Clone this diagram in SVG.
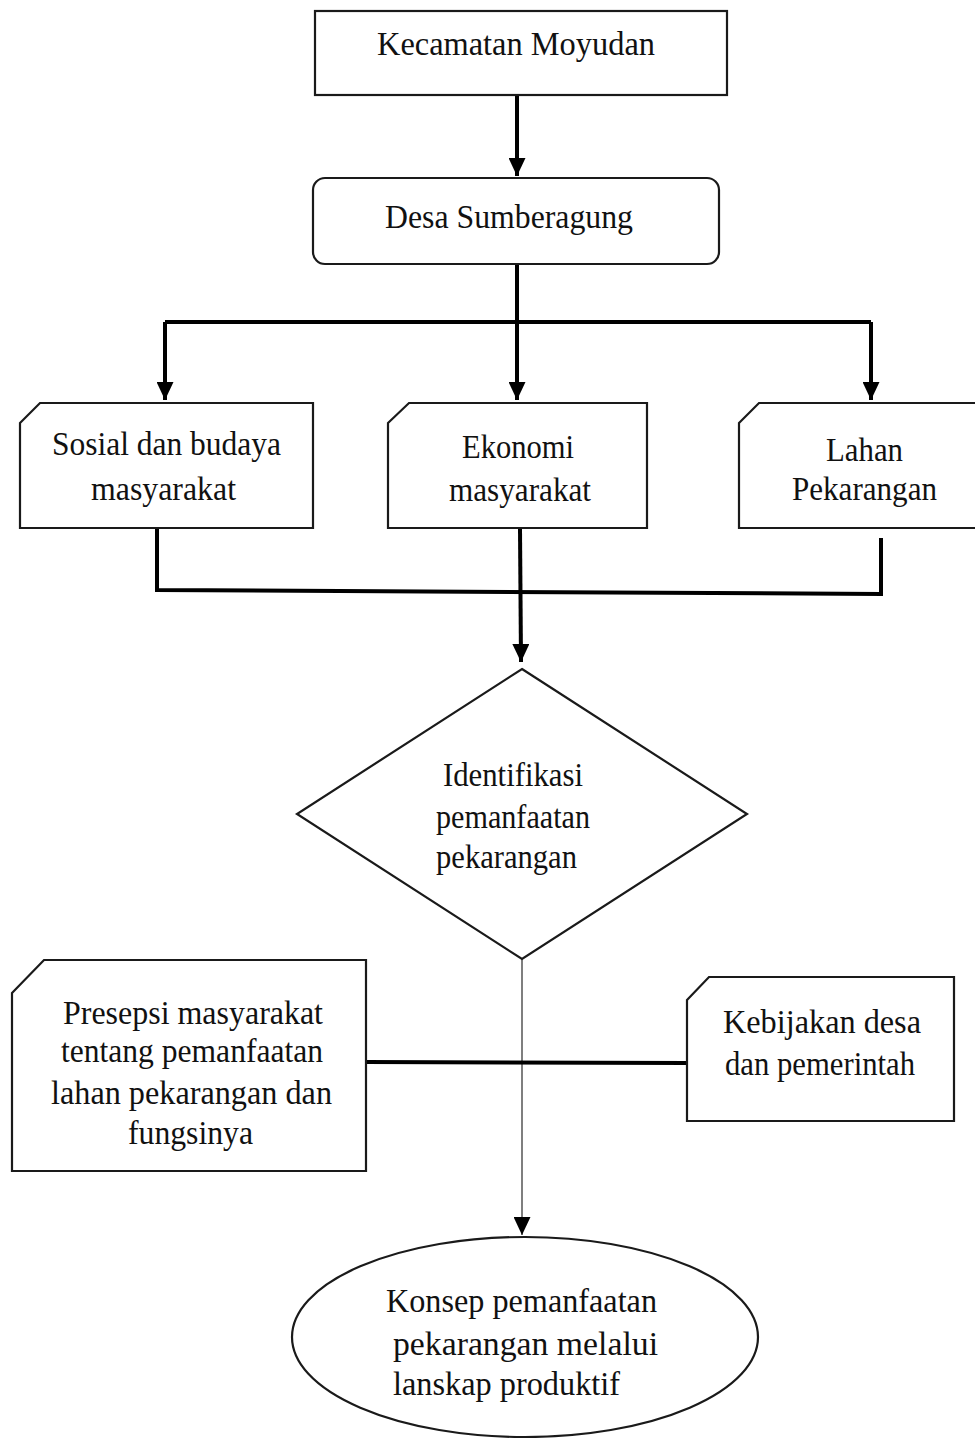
<svg xmlns="http://www.w3.org/2000/svg" width="975" height="1438" viewBox="0 0 975 1438">
<style>
.shape{fill:#fff;stroke:#1a1a1a;stroke-width:2.2}
.thick{fill:none;stroke:#000;stroke-width:4}
.thin{fill:none;stroke:#555;stroke-width:1.5}
text{font-family:"Liberation Serif","Times New Roman",serif;font-size:34px;fill:#111}
</style>
<defs>
<marker id="ah" markerUnits="userSpaceOnUse" markerWidth="18" markerHeight="17" refX="18" refY="8.5" orient="auto">
<path d="M0,0 L18,8.5 L0,17 z" fill="#000"/>
</marker>
</defs>
<rect width="975" height="1438" fill="#fff"/>
<g id="connectors">
<line class="thick" x1="517" y1="96" x2="517" y2="176" marker-end="url(#ah)"/>
<polyline class="thick" points="517,264 517,322"/>
<polyline class="thick" points="165,322 871,322"/>
<line class="thick" x1="165" y1="322" x2="165" y2="400" marker-end="url(#ah)"/>
<line class="thick" x1="517" y1="322" x2="517" y2="400" marker-end="url(#ah)"/>
<line class="thick" x1="871" y1="322" x2="871" y2="400" marker-end="url(#ah)"/>
<polyline class="thick" points="157,529 157,590 881,594 881,538"/>
<line class="thick" x1="520" y1="529" x2="521" y2="662" marker-end="url(#ah)"/>
<line class="thin" x1="522" y1="959" x2="522" y2="1235" marker-end="url(#ah)"/>
<line class="thick" x1="366" y1="1062" x2="687" y2="1063"/>
</g>
<g id="kecamatan">
<rect class="shape" x="315" y="11" width="412" height="84"/>
<text x="377" y="55" textLength="278" lengthAdjust="spacingAndGlyphs">Kecamatan Moyudan</text>
</g>
<g id="desa">
<rect class="shape" x="313" y="178" width="406" height="86" rx="12" ry="12"/>
<text x="385" y="228" textLength="248" lengthAdjust="spacingAndGlyphs">Desa Sumberagung</text>
</g>
<g id="sosial">
<path class="shape" d="M20,423 L40,403 L313,403 L313,528 L20,528 Z"/>
<text x="52" y="455" textLength="229" lengthAdjust="spacingAndGlyphs">Sosial dan budaya</text>
<text x="91" y="500" textLength="145" lengthAdjust="spacingAndGlyphs">masyarakat</text>
</g>
<g id="ekonomi">
<path class="shape" d="M388,423 L409,403 L647,403 L647,528 L388,528 Z"/>
<text x="462" y="458" textLength="112" lengthAdjust="spacingAndGlyphs">Ekonomi</text>
<text x="449" y="501" textLength="142" lengthAdjust="spacingAndGlyphs">masyarakat</text>
</g>
<g id="lahan">
<path class="shape" d="M739,423 L759,403 L990,403 L990,528 L739,528 Z"/>
<text x="826" y="461" textLength="77" lengthAdjust="spacingAndGlyphs">Lahan</text>
<text x="792" y="500" textLength="145" lengthAdjust="spacingAndGlyphs">Pekarangan</text>
</g>
<g id="identifikasi">
<polygon class="shape" points="522,669 747,814 522,959 297,814"/>
<text x="443" y="786" textLength="140" lengthAdjust="spacingAndGlyphs">Identifikasi</text>
<text x="436" y="828" textLength="154" lengthAdjust="spacingAndGlyphs">pemanfaatan</text>
<text x="436" y="868" textLength="141" lengthAdjust="spacingAndGlyphs">pekarangan</text>
</g>
<g id="presepsi">
<path class="shape" d="M12,993 L44,960 L366,960 L366,1171 L12,1171 Z"/>
<text x="63" y="1024" textLength="260" lengthAdjust="spacingAndGlyphs">Presepsi masyarakat</text>
<text x="61" y="1062" textLength="262" lengthAdjust="spacingAndGlyphs">tentang pemanfaatan</text>
<text x="51" y="1104" textLength="281" lengthAdjust="spacingAndGlyphs">lahan pekarangan dan</text>
<text x="128" y="1144" textLength="125" lengthAdjust="spacingAndGlyphs">fungsinya</text>
</g>
<g id="kebijakan">
<path class="shape" d="M687,1000 L709,977 L954,977 L954,1121 L687,1121 Z"/>
<text x="723" y="1033" textLength="198" lengthAdjust="spacingAndGlyphs">Kebijakan desa</text>
<text x="725" y="1075" textLength="190" lengthAdjust="spacingAndGlyphs">dan pemerintah</text>
</g>
<g id="konsep">
<ellipse class="shape" cx="525" cy="1337" rx="233" ry="100"/>
<text x="386" y="1312" textLength="271" lengthAdjust="spacingAndGlyphs">Konsep pemanfaatan</text>
<text x="393" y="1355" textLength="265" lengthAdjust="spacingAndGlyphs">pekarangan melalui</text>
<text x="393" y="1395" textLength="227" lengthAdjust="spacingAndGlyphs">lanskap produktif</text>
</g>
</svg>
